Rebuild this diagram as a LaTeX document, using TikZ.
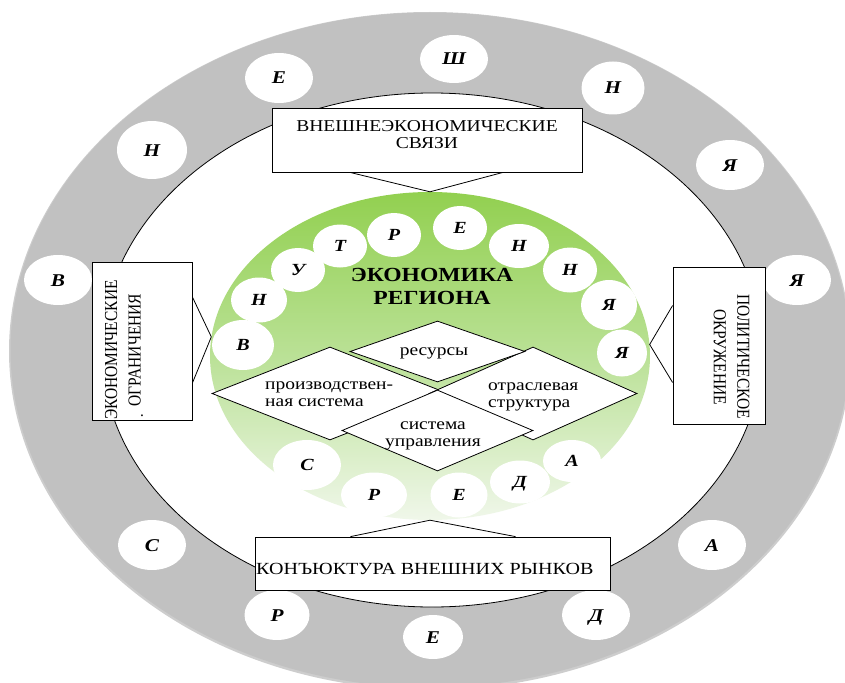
\documentclass[tikz,border=0pt]{standalone}
\usepackage{fontspec}
\usepackage{graphicx}
\setmainfont{Liberation Serif}
\usetikzlibrary{shapes.geometric}
\newcommand\sxx[1]{\scalebox{1.18}[1]{#1}}
\newcommand\syy[1]{\scalebox{1}[1.18]{#1}}
\definecolor{ringc}{RGB}{193,193,193}
\definecolor{ringrim}{RGB}{205,205,205}
\definecolor{gtop}{RGB}{146,208,80}
\definecolor{gmid}{RGB}{186,225,150}
\definecolor{gbot}{RGB}{240,247,234}
\begin{document}
\begin{tikzpicture}[x=1pt,y=-1pt,
  lw/.style={line width=0.8pt},
  oletter/.style={ellipse, fill=white, inner sep=0pt, minimum width=68pt, minimum height=50pt, text height=12pt, text depth=0pt, font=\fontsize{18}{18}\selectfont\bfseries\itshape},
  iletter/.style={ellipse, fill=white, inner sep=0pt, minimum width=56pt, minimum height=45pt, text height=11.5pt, text depth=0pt, font=\fontsize{17}{17}\selectfont\bfseries\itshape},
  boxnode/.style={draw, line width=0.8pt, fill=white, inner sep=0pt},
  rhomb/.style={diamond, draw, line width=0.8pt, fill=white, inner sep=0pt},
  boxtext/.style={inner sep=0pt, align=center, font=\fontsize{16.6}{16.6}\selectfont},
  vtext/.style={inner sep=0pt, align=center, font=\fontsize{15.5}{23.5}\selectfont},
  dtext/.style={inner sep=0pt, font=\fontsize{16.5}{17}\selectfont}]
\useasboundingbox (0,0) rectangle (845,682);
\clip (0,0) rectangle (845,682);
% outer ring
\fill[ringrim] (430,351) ellipse [x radius=421, y radius=339];
\fill[ringc] (430,350) ellipse [x radius=419.5, y radius=337.5];
% outer letters
\node[oletter] (o1) at (58,280) {\sxx{В}};
\node[oletter, minimum width=70pt, minimum height=58pt] (o2) at (152,150) {\sxx{Н}};
\node[oletter] (o3) at (279,78) {\sxx{Е}};
\node[oletter, minimum height=48pt] (o4) at (454,59) {\sxx{Ш}};
\node[oletter, minimum width=63pt, minimum height=53pt] (o5) at (613,88) {\sxx{Н}};
\node[oletter] (o6) at (730,165) {\sxx{Я}};
\node[oletter] (o7) at (797,280) {\sxx{Я}};
\node[oletter] (o8) at (152,545) {\sxx{С}};
\node[oletter, minimum width=65pt] (o9) at (277,615) {\sxx{Р}};
\node[oletter, minimum width=60pt, minimum height=44pt] (o10) at (433,637) {\sxx{Е}};
\node[oletter] (o11) at (596,615) {\sxx{Д}};
\node[oletter] (o12) at (712,545) {\sxx{А}};
% inner white ellipse
\draw[fill=white, line width=0.8pt] (432,350) ellipse [x radius=330, y radius=257];
% green core
\node[ellipse, inner sep=0pt, minimum width=440pt, minimum height=328pt, top color=gtop, bottom color=gbot, middle color=gmid] (econ) at (430,356) {};
% inner letters
\node[iletter, minimum width=62pt, minimum height=50pt] (i1) at (243,345) {\sxx{В}};
\node[iletter] (i2) at (259,300) {\sxx{Н}};
\node[iletter, minimum width=54pt, minimum height=44pt] (i3) at (298,270) {\sxx{У}};
\node[iletter, minimum width=54pt, minimum height=43pt] (i4) at (340,246) {\sxx{Т}};
\node[iletter, minimum width=54pt, minimum height=44pt] (i5) at (394,235) {\sxx{Р}};
\node[iletter, minimum width=54pt, minimum height=44pt] (i6) at (460,228) {\sxx{Е}};
\node[iletter, minimum width=60pt, minimum height=44pt] (i7) at (519,246) {\sxx{Н}};
\node[iletter, minimum width=54pt, minimum height=45pt] (i8) at (570,270) {\sxx{Н}};
\node[iletter, minimum width=56pt, minimum height=50pt] (i9) at (609,305) {\sxx{Я}};
\node[iletter, minimum width=50pt, minimum height=47pt] (i10) at (622,353) {\sxx{Я}};
\node[iletter, minimum width=68pt, minimum height=50pt] (i11) at (307,465) {\sxx{С}};
\node[iletter, minimum width=66pt, minimum height=45pt] (i12) at (374,495) {\sxx{Р}};
\node[iletter, minimum width=57pt, minimum height=45pt] (i13) at (459,495) {\sxx{Е}};
\node[iletter, minimum width=60pt, minimum height=43pt] (i14) at (520,482) {\sxx{Д}};
\node[iletter, minimum width=58pt, minimum height=42pt] (i15) at (572,461) {\sxx{А}};
% title
\node[inner sep=0pt, align=center, font=\fontsize{20}{23}\selectfont\bfseries] (title) at (432,286.3) {\sxx{ЭКОНОМИКА}\\\sxx{РЕГИОНА}};
% diamonds
\node[rhomb, minimum width=236pt, minimum height=93pt] (prod) at (330,393.5) {};
\node[rhomb, minimum width=208pt, minimum height=93pt] (otr) at (533,393.5) {};
\node[rhomb, minimum width=175pt, minimum height=61pt] (res) at (437.5,351.5) {};
\node[rhomb, minimum width=191pt, minimum height=81pt] (upr) at (437.5,430.5) {};
\node[dtext, anchor=west, align=left] (prodT) at (265,394.5) {\sxx{производствен-}\\\sxx{ная система}};
\node[dtext, anchor=west, align=left] (otrT) at (488,396.6) {\sxx{отраслевая}\\\sxx{структура}};
\node[dtext, align=center] (uprT) at (433,435.6) {\sxx{система}\\\sxx{управления}};
\node[dtext, anchor=base] (resT) at (434,355) {\sxx{ресурсы}};
% top box
\node[boxnode, minimum width=310pt, minimum height=64pt] (ext) at (427,140) {};
\node[boxtext] (extT) at (427,134.5) {\sxx{ВНЕШНЕЭКОНОМИЧЕСКИЕ}\\\sxx{СВЯЗИ}};
\draw[lw] ([xshift=-77pt]ext.south) -- (econ.north) -- ([xshift=76pt]ext.south);
% left box
\node[boxnode, minimum width=100pt, minimum height=158pt] (eco) at (142,341) {};
\node[vtext, rotate=90] (ecoT) at (123,350) {\syy{ЭКОНОМИЧЕСКИЕ}\\\syy{ОГРАНИЧЕНИЯ}};
\node[inner sep=0pt, font=\fontsize{15.5}{15.5}\selectfont] (ecoDot) at (142,416) {.};
\draw[lw] ([yshift=44pt]eco.east) -- (econ.175) -- ([yshift=-42pt]eco.east);
% right box
\node[boxnode, minimum width=92pt, minimum height=157pt] (pol) at (719,345.5) {};
\node[vtext, rotate=-90] (polT) at (731.5,357) {\syy{ПОЛИТИЧЕСКОЕ}\\\syy{ОКРУЖЕНИЕ}};
\draw[lw] ([yshift=40pt]pol.west) -- (econ.3) -- ([yshift=-37pt]pol.west);
% bottom box
\node[boxnode, minimum width=355pt, minimum height=53pt] (mkt) at (432.5,563.5) {};
\node[inner sep=0pt, anchor=base west, font=\fontsize{17}{17}\selectfont] (mktT) at (256,574) {\sxx{КОНЪЮКТУРА ВНЕШНИХ РЫНКОВ}};
\draw[lw] ([xshift=-82pt]mkt.north) -- (econ.south) -- ([xshift=83pt]mkt.north);
\end{tikzpicture}
\end{document}
